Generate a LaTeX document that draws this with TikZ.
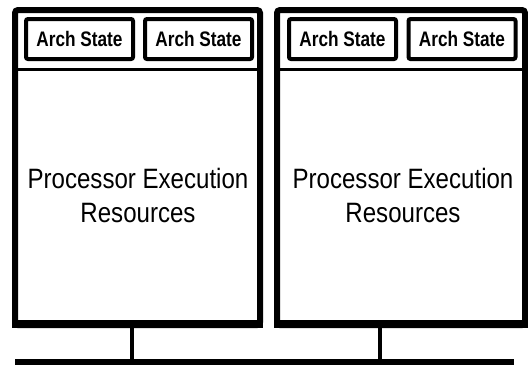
\documentclass[tikz,border=0pt]{standalone}
\usepackage{fontspec}
\newfontfamily\archfont{Liberation Sans}[FakeStretch=0.82]
\newfontfamily\procfont{Liberation Sans}[FakeStretch=0.86]
\usetikzlibrary{positioning}

\tikzset{
  procbox/.style={draw, line width=6pt, rounded corners=3pt, inner sep=0pt},
  archbox/.style={draw, line width=4pt, rounded corners=2pt, inner sep=0pt,
    minimum width=107pt, minimum height=40pt,
    font=\archfont\bfseries\fontsize{21}{21}\selectfont},
  proclabel/.style={align=center, inner sep=0pt,
    font=\procfont\fontsize{28}{34}\selectfont},
  link/.style={line width=4.5pt},
  bus/.style={line width=6pt}
}

\begin{document}
\begin{tikzpicture}[x=1pt, y=-1pt]
    \useasboundingbox (0,0) rectangle (528,365);

    % Processors
    \node[procbox, minimum width=245pt, minimum height=315pt] (cpuA) at (137.5,167.5) {};
    \node[procbox, minimum width=248pt, minimum height=315pt] (cpuB) at (401,167.5) {};
    % heavy bottom edge
    \fill ([yshift=8pt]cpuA.south west) rectangle (cpuA.south east);
    \fill ([yshift=8pt]cpuB.south west) rectangle (cpuB.south east);

    % Divider under the state registers
    \draw[line width=2.5pt] (cpuA.west |- 0,69.5) -- (cpuA.east |- 0,69.5);
    \draw[line width=2.5pt] (cpuB.west |- 0,69.5) -- (cpuB.east |- 0,69.5);

    % Architectural state
    \node[archbox] (archA1) at (79.5,39) {Arch State};
    \node[archbox] (archA2) at (198.5,39) {Arch State};
    \node[archbox] (archB1) at (342.5,39) {Arch State};
    \node[archbox] (archB2) at (462,39) {Arch State};

    % Execution resources
    \node[proclabel] (resA) at (138,195) {Processor Execution\\Resources};
    \node[proclabel] (resB) at (403,195) {Processor Execution\\Resources};

    % Bus
    \coordinate (busL) at (15,362);
    \coordinate (busR) at (514,362);
    \coordinate (tapA) at (132,362);
    \coordinate (tapB) at (380,362);
    \draw[bus] (busL) -- (busR);
    \draw[link] (tapA |- cpuA.south) -- ([yshift=3pt]tapA);
    \draw[link] (tapB |- cpuB.south) -- ([yshift=3pt]tapB);
\end{tikzpicture}
\end{document}
